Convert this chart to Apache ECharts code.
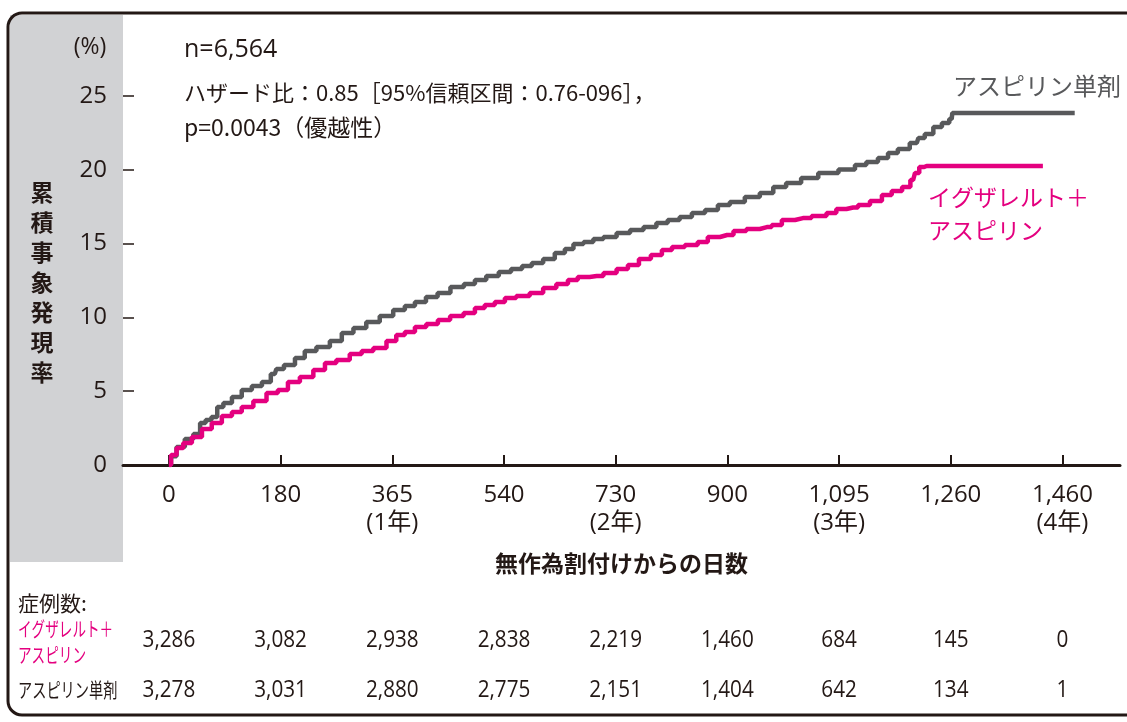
<!DOCTYPE html>
<html><head><meta charset="utf-8">
<script src="https://cdn.jsdelivr.net/npm/echarts@6/dist/echarts.min.js"></script>
<style>html,body{margin:0;padding:0;background:#fff;overflow:hidden}#c{width:1127px;height:722px;}</style>
</head><body><div id="c"></div><script>
// x ticks (equally spaced half-years) and their printed labels
const dayTicks = [0, 182.5, 365, 547.5, 730, 912.5, 1095, 1277.5, 1460];
const dayLabels = ['0','180','365\n(1年)','540','730\n(2年)','900','1,095\n(3年)','1,260','1,460\n(4年)'];
// アスピリン単剤 (cumulative incidence, %)
const aspDays = [0, 7, 18, 34, 46, 56, 64, 75, 83, 95, 111, 127, 144, 160, 173, 178, 198, 214, 230, 252, 274, 291, 312, 333, 356, 377, 394, 410, 430, 448, 472, 492, 508, 529, 549, 569, 585, 601, 622, 639, 655, 667, 688, 699, 721, 742, 765, 786, 807, 823, 846, 863, 889, 905, 928, 954, 977, 998, 1019, 1047, 1075, 1113, 1129, 1150, 1167, 1183, 1199, 1222, 1227, 1243, 1255, 1271, 1279, 1281, 1480];
const aspVals = [0, 0.6, 1.22, 1.76, 2.1, 2.85, 3.05, 3.25, 3.93, 4.2, 4.61, 5.08, 5.35, 5.62, 6.17, 6.5, 6.78, 7.25, 7.72, 7.99, 8.4, 8.94, 9.28, 9.69, 10.09, 10.5, 10.77, 11.04, 11.38, 11.65, 12.06, 12.26, 12.53, 12.8, 13.08, 13.28, 13.48, 13.69, 13.96, 14.36, 14.63, 14.97, 15.11, 15.31, 15.45, 15.72, 15.92, 16.12, 16.4, 16.6, 16.8, 17.07, 17.28, 17.62, 17.82, 18.16, 18.43, 18.83, 19.11, 19.44, 19.78, 20.02, 20.33, 20.53, 20.8, 21.14, 21.41, 21.82, 22.15, 22.43, 22.9, 23.17, 23.44, 23.85, 23.85];
// イグザレルト＋アスピリン
const ixaDays = [0, 7, 18, 29, 46, 62, 78, 95, 111, 127, 149, 170, 186, 203, 225, 247, 263, 284, 307, 323, 345, 366, 377, 394, 410, 431, 448, 471, 492, 508, 524, 541, 557, 578, 601, 622, 644, 660, 676, 699, 721, 742, 758, 778, 797, 814, 830, 856, 872, 889, 912, 933, 954, 977, 993, 1010, 1036, 1064, 1085, 1096, 1118, 1134, 1157, 1173, 1189, 1207, 1216, 1222, 1230, 1238, 1428];
const ixaVals = [0, 0.68, 1.15, 1.49, 1.9, 2.44, 2.85, 3.32, 3.59, 3.93, 4.34, 4.88, 5.08, 5.62, 5.96, 6.44, 6.91, 7.11, 7.52, 7.72, 7.93, 8.4, 8.81, 9.01, 9.35, 9.55, 9.82, 10.09, 10.3, 10.64, 10.84, 11.04, 11.31, 11.45, 11.65, 11.99, 12.26, 12.53, 12.74, 12.8, 13.01, 13.28, 13.55, 13.96, 14.23, 14.57, 14.77, 14.91, 15.11, 15.45, 15.58, 15.85, 15.99, 16.12, 16.26, 16.6, 16.73, 16.87, 17.07, 17.34, 17.45, 17.62, 17.89, 18.29, 18.56, 18.83, 19.31, 19.78, 20.19, 20.26, 20.26];
// numbers at risk
const riskIxa = ['3,286','3,082','2,938','2,838','2,219','1,460','684','145','0'];
const riskAsp = ['3,278','3,031','2,880','2,775','2,151','1,404','642','134','1'];

const INK = '#231815', GRAY = '#58595b', PINK = '#e4007f';
const FONT = "'Open Sans','Noto Sans CJK JP',sans-serif";
const JFONT = "'Noto Sans CJK JP',sans-serif";

const chart = echarts.init(document.getElementById('c'), null, {renderer: 'canvas'});
chart.setOption({
  animation: false,
  backgroundColor: '#fff',
  grid: {left: 123, right: 7, top: 96, bottom: 257},
  xAxis: {
    type: 'value', min: -75, max: 1554,
    axisLine: {show: true, onZero: false, lineStyle: {color: INK, width: 3}},
    axisTick: {show: true, customValues: dayTicks, inside: true, length: 10, lineStyle: {color: INK, width: 2}},
    axisLabel: {customValues: dayTicks, formatter: v => dayLabels[dayTicks.indexOf(v)], color: INK, fontSize: 24, fontFamily: FONT, margin: 16, lineHeight: 28, verticalAlign: 'top'},
    splitLine: {show: false},
    name: '無作為割付けからの日数', nameLocation: 'middle', nameGap: 87,
    nameTextStyle: {color: INK, fontSize: 23, fontWeight: 'bold', fontFamily: JFONT}
  },
  yAxis: {
    type: 'value', min: 0, max: 25, interval: 5,
    axisLine: {show: false, onZero: false},
    axisTick: {show: true, inside: true, length: 11, lineStyle: {color: INK, width: 1.5}},
    axisLabel: {color: INK, fontSize: 24, fontFamily: FONT, margin: 16},
    splitLine: {show: false}
  },
  series: [
    {name: 'アスピリン単剤', type: 'line', step: 'middle', symbol: 'none', data: aspDays.map((d, i) => [d, aspVals[i]]), lineStyle: {color: GRAY, width: 4.5}, itemStyle: {color: GRAY}, z: 3},
    {name: 'イグザレルト＋アスピリン', type: 'line', step: 'middle', symbol: 'none', data: ixaDays.map((d, i) => [d, ixaVals[i]]), lineStyle: {color: PINK, width: 4.5}, itemStyle: {color: PINK}, z: 4}
  ]
});

const xs = dayTicks.map(d => chart.convertToPixel({xAxisIndex: 0}, d));
function txt(text, x, y, size, fill, opts) {
  return Object.assign({type: 'text', x: x, y: y, style: Object.assign({text: text, fontSize: size, fontFamily: FONT, fill: fill, align: 'left', verticalAlign: 'middle'}, (opts && opts.style) || {})}, (opts && opts.el) || {});
}
const g = [
  {type: 'rect', shape: {x: 10, y: 15, width: 113, height: 547}, style: {fill: '#d1d2d4'}, z: -10, silent: true},
  {type: 'rect', shape: {x: 8, y: 13, width: 1140, height: 702, r: 14}, style: {fill: 'none', stroke: INK, lineWidth: 3}, z: 10, silent: true},
  txt('(%)', 90, 47, 23, INK, {style: {align: 'center'}}),
  txt('n=6,564', 184, 50, 25, INK),
  txt('ハザード比：0.85［95%信頼区間：0.76-096］，', 184, 93, 22, INK, {style: {fontFamily: JFONT}}),
  txt('p=0.0043（優越性）', 184, 127, 23, INK, {style: {fontFamily: JFONT}}),
  txt('累\n積\n事\n象\n発\n現\n率', 42, 282, 23, INK, {style: {align: 'center', fontWeight: 'bold', lineHeight: 30, fontFamily: JFONT}}),
  txt('アスピリン単剤', 953, 86, 24, GRAY, {style: {fontFamily: JFONT}}),
  txt('イグザレルト＋', 928, 197, 23, PINK, {style: {fontFamily: JFONT}}),
  txt('アスピリン', 928, 230, 23, PINK, {style: {fontFamily: JFONT}}),
  txt('症例数:', 18, 603, 21, INK, {style: {fontFamily: JFONT}}),
  txt('イグザレルト＋', 18, 629, 20, PINK, {style: {fontFamily: JFONT}, el: {scaleX: 0.68}}),
  txt('アスピリン', 18, 655, 20, PINK, {style: {fontFamily: JFONT}, el: {scaleX: 0.68}}),
  txt('アスピリン単剤', 18, 690, 20, INK, {style: {fontFamily: JFONT}, el: {scaleX: 0.71}})
];
riskIxa.forEach((t, i) => g.push(txt(t, xs[i], 640, 23, INK, {style: {align: 'center'}, el: {scaleX: 0.9}})));
riskAsp.forEach((t, i) => g.push(txt(t, xs[i], 690, 23, INK, {style: {align: 'center'}, el: {scaleX: 0.9}})));
chart.setOption({graphic: g});
</script></body></html>
